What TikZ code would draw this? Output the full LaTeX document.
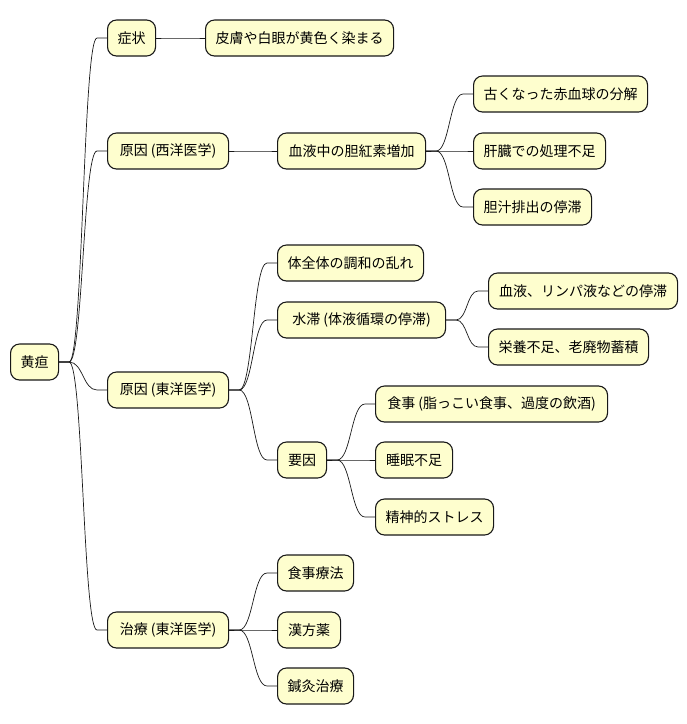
\documentclass[tikz,border=0pt]{standalone}
\usepackage{fontspec}
\setmainfont{Noto Sans CJK JP}
\usetikzlibrary{calc}
\definecolor{nodefill}{HTML}{FEFECE}
\definecolor{nodeline}{HTML}{181818}
\tikzset{
  mm/.style={draw=nodeline, fill=nodefill, line width=1.1pt, rounded corners=9pt,
    minimum height=36pt, inner xsep=0pt, inner ysep=0pt, anchor=west,
    font=\fontsize{14pt}{16pt}\selectfont},
  link/.style={draw=nodeline, line width=0.7pt}
}
\newcommand\mmlink[2]{%
  \coordinate (lkS) at ($(#1.east)+(10,0)$);
  \coordinate (lkE) at ($(#2.west)+(-10,0)$);
  \coordinate (lkM) at ($(lkS)!0.5!(lkE)$);
  \draw[link] (#1.east) -- (lkS) .. controls (lkM |- lkS) and (lkM |- lkE) .. (lkE) -- (#2.west);}
\begin{document}
\begin{tikzpicture}[x=1pt,y=-1pt]
\useasboundingbox (0,0) rectangle (687,724);
% nodes
\node[mm, minimum width=48] (root) at (10,362) {黄疸};
\node[mm, minimum width=48] (a) at (107,38) {症状};
\node[mm, minimum width=188] (a1) at (205,38) {皮膚や白眼が黄色く染まる};
\node[mm, minimum width=121] (b) at (107,151) {原因 (西洋医学)};
\node[mm, minimum width=148] (b1) at (277,151) {血液中の胆紅素増加};
\node[mm, minimum width=174] (b11) at (473,94) {古くなった赤血球の分解};
\node[mm, minimum width=132] (b12) at (473,151) {肝臓での処理不足};
\node[mm, minimum width=118] (b13) at (473,207) {胆汁排出の停滞};
\node[mm, minimum width=121] (c) at (107,390) {原因 (東洋医学)};
\node[mm, minimum width=146] (c1) at (277,263) {体全体の調和の乱れ};
\node[mm, minimum width=168] (c2) at (277,320) {水滞 (体液循環の停滞)};
\node[mm, minimum width=189] (c21) at (488,291) {血液、リンパ液などの停滞};
\node[mm, minimum width=160] (c22) at (488,347) {栄養不足、老廃物蓄積};
\node[mm, minimum width=49] (c3) at (277,460) {要因};
\node[mm, minimum width=232] (c31) at (375,404) {食事 (脂っこい食事、過度の飲酒)};
\node[mm, minimum width=77] (c32) at (375,460) {睡眠不足};
\node[mm, minimum width=118] (c33) at (375,517) {精神的ストレス};
\node[mm, minimum width=121] (d) at (107,630) {治療 (東洋医学)};
\node[mm, minimum width=76] (d1) at (277,573) {食事療法};
\node[mm, minimum width=63] (d2) at (277,630) {漢方薬};
\node[mm, minimum width=76] (d3) at (277,686) {鍼灸治療};
% connectors
\mmlink{root}{a}
\mmlink{root}{b}
\mmlink{root}{c}
\mmlink{root}{d}
\mmlink{a}{a1}
\mmlink{b}{b1}
\mmlink{b1}{b11}
\mmlink{b1}{b12}
\mmlink{b1}{b13}
\mmlink{c}{c1}
\mmlink{c}{c2}
\mmlink{c}{c3}
\mmlink{c2}{c21}
\mmlink{c2}{c22}
\mmlink{c3}{c31}
\mmlink{c3}{c32}
\mmlink{c3}{c33}
\mmlink{d}{d1}
\mmlink{d}{d2}
\mmlink{d}{d3}
\end{tikzpicture}
\end{document}
